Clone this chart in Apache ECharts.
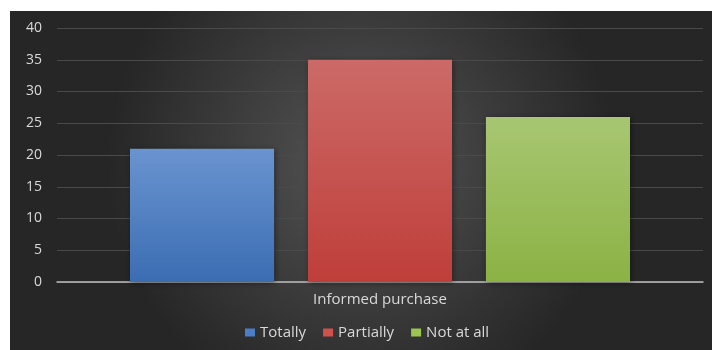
<!DOCTYPE html>
<html>
<head>
<meta charset="utf-8">
<script src="https://cdn.jsdelivr.net/npm/echarts@6/dist/echarts.min.js"></script>
<style>
  html, body { margin: 0; padding: 0; background: #ffffff; }
  #wrap { position: relative; width: 712px; height: 350px; background: #ffffff; }
  #chart { position: absolute; left: 10px; top: 11px; width: 702px; height: 339px; }
</style>
</head>
<body>
<div id="wrap"><div id="chart"></div></div>
<script>
// Survey result for a single question, split into three answers
const categories = ['Informed purchase'];
const seriesNames = ['Totally', 'Partially', 'Not at all'];
const totallyValues = [21];
const partiallyValues = [35];
const notAtAllValues = [26];
const yTicks = { min: 0, max: 40, interval: 5 };

function vGrad(top, bottom) {
  return new echarts.graphic.LinearGradient(0, 0, 0, 1, [
    { offset: 0, color: top },
    { offset: 1, color: bottom }
  ]);
}

const barStyles = [
  { top: '#6a94d0', bottom: '#3b6db3', legend: '#4a7fc8' },
  { top: '#cc6a67', bottom: '#bf3e3a', legend: '#d0504c' },
  { top: '#a8c672', bottom: '#8bb244', legend: '#9cc450' }
];
const seriesValues = [totallyValues, partiallyValues, notAtAllValues];

const chart = echarts.init(document.getElementById('chart'), null, { renderer: 'canvas' });

chart.setOption({
  backgroundColor: new echarts.graphic.RadialGradient(0.5, 0.45, 0.75, [
    { offset: 0, color: '#555555' },
    { offset: 1, color: '#262626' }
  ]),
  animation: false,
  textStyle: { fontFamily: '"Open Sans", Lato, sans-serif' },
  grid: { left: 47, right: 9, top: 17, bottom: 68, containLabel: false },
  legend: {
    top: 314,
    left: 235,
    padding: 0,
    itemWidth: 10,
    itemHeight: 8,
    itemGap: 17,
    icon: 'rect',
    textStyle: { color: '#d9d9d9', fontSize: 15, padding: 0 },
    data: seriesNames.map((n, i) => ({ name: n, itemStyle: { color: barStyles[i].legend } }))
  },
  xAxis: {
    type: 'category',
    data: categories,
    axisLine: { lineStyle: { color: '#bfbfbf', width: 1.5 } },
    axisTick: { show: false },
    axisLabel: { color: '#d9d9d9', fontSize: 15, margin: 10 }
  },
  yAxis: {
    type: 'value',
    min: yTicks.min,
    max: yTicks.max,
    interval: yTicks.interval,
    axisLine: { show: false },
    axisTick: { show: false },
    axisLabel: { color: '#d9d9d9', fontSize: 14, margin: 15 },
    splitLine: { lineStyle: { color: '#4a4a4a', width: 1 } }
  },
  series: seriesNames.map((name, i) => ({
    name: name,
    type: 'bar',
    data: seriesValues[i],
    barGap: '23.5%',
    barCategoryGap: '22.6%',
    itemStyle: {
      color: vGrad(barStyles[i].top, barStyles[i].bottom),
      shadowColor: 'rgba(0,0,0,0.45)',
      shadowBlur: 6,
      shadowOffsetX: 1,
      shadowOffsetY: 1
    }
  }))
});
</script>
</body>
</html>
